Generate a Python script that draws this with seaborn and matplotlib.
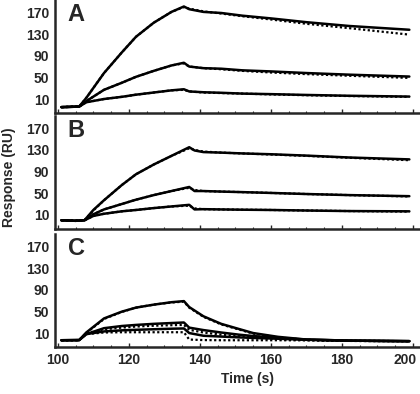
import numpy as np
import pandas as pd
import seaborn as sns
import matplotlib.pyplot as plt
import matplotlib.transforms as mtransforms
from matplotlib.ticker import MultipleLocator

sns.set_style("ticks")
plt.rcParams['font.family'] = ['Liberation Sans', 'DejaVu Sans']
plt.rcParams['font.weight'] = 'bold'

# time points (s)
time_a = [101, 106, 108, 113, 118, 122, 127, 132, 135.5, 137, 141, 146, 152, 160, 170, 182, 199]
time_b = [101, 105, 107.5, 110, 113, 118, 122, 127, 132, 137, 138.5, 141, 146, 152, 160, 170, 182, 199]
time_c = [101, 106, 108, 113, 118, 122, 127, 132, 135.5, 137, 141, 146, 151, 155, 162, 170, 182, 199]

# panel A: measured (solid) and fit (dotted)
a_high = [-5, -4, 12, 58, 96, 125, 151, 171, 181, 176, 171, 169, 164, 159, 152, 145, 138]
a_mid = [-5, -4, 6, 27, 40, 51, 62, 72, 77, 70, 67, 66, 63, 61, 58, 55, 51.5]
a_low = [-5, -4, 4, 10, 14, 18, 22, 26, 28, 24, 22.5, 21.5, 20, 19, 17.5, 16, 14.5]
a_high_fit = [-5, -4, 12, 58, 96, 125, 151, 171, 180, 177, 172, 168, 163, 157, 149, 141, 129]
a_mid_fit = [-5, -4, 6, 27, 40, 51, 62, 72, 76, 70, 67, 65, 62, 59, 56, 53, 49]
a_low_fit = [-5, -4, 4, 10, 14, 18, 22, 26, 27, 24, 22, 21, 20, 18.5, 17, 15.5, 14]

# panel B
b_high = [0, -1, 0, 19, 37, 65, 85, 103, 119, 135, 129, 126, 125, 123.5, 122, 119.5, 116, 112.5]
b_mid = [0, -1, 0, 11, 20, 30, 38, 46.5, 54, 61.5, 54, 54, 53, 52, 50.5, 48.5, 46.5, 44.5]
b_low = [0, -1, 0, 8, 12, 16.5, 19, 22.5, 25.5, 28.5, 20, 20.5, 20, 19.5, 19, 18, 17, 16.5]
b_high_fit = [0, -1, 0, 18, 37, 65, 85, 103, 119, 133, 130, 127, 125, 123.5, 121.5, 119, 115.5, 111]
b_mid_fit = [0, -1, 0, 11, 20, 30, 38, 46.5, 54, 60, 56, 54, 53, 52, 50.5, 48.5, 46.5, 44]
b_low_fit = [0, -1, 0, 8, 12, 16.5, 19, 22.5, 25.5, 27, 22, 20.5, 20, 19.5, 19, 18, 17, 16]

# panel C
c_high = [-3.3, -3, 11, 37, 49.5, 57, 62.5, 67, 69, 58, 41, 27, 17.5, 10, 3, -2, -4, -5]
c_mid = [-3.3, -3, 8, 19, 23, 25, 27, 28.5, 29.5, 20, 15.5, 11, 7, 4.5, 1, -2, -4, -5]
c_low = [-3.3, -3, 8, 13, 15, 16, 17, 18, 18.5, 10, 5, 3.5, 2, 1, -0.5, -2.5, -4, -5]
c_high_fit = [-3.3, -3, 10, 36, 49, 57, 62.5, 66.5, 68, 57, 40, 26, 16.5, 9, 2, -2.5, -4.5, -5]
c_mid_fit = [-3.3, -3, 9, 17, 20, 22, 23.5, 24.5, 25, 16, 11, 7, 4, 2, -1, -3, -4.5, -5]
c_low_fit = [-3.3, -3, 8, 11, 11.5, 11.5, 11.5, 11.5, 11.5, -2, -3, -3.3, -3.3, -3.3, -3.3, -3.5, -4.5, -5]

panels = [
    ('A', time_a, [a_high, a_mid, a_low], [a_high_fit, a_mid_fit, a_low_fit]),
    ('B', time_b, [b_high, b_mid, b_low], [b_high_fit, b_mid_fit, b_low_fit]),
    ('C', time_c, [c_high, c_mid, c_low], [c_high_fit, c_mid_fit, c_low_fit]),
]

fig = plt.figure(figsize=(4.2, 3.94), dpi=100)
# axes boxes in figure fraction: left, bottom, width, height
boxes = [(0.131, 0.713, 0.869, 0.287),
         (0.131, 0.419, 0.869, 0.287),
         (0.131, 0.119, 0.869, 0.287)]

for i, (letter, t, measured, fits) in enumerate(panels):
    ax = fig.add_axes(boxes[i])
    for fit in fits:
        sns.lineplot(x=t, y=fit, ax=ax, color='black', lw=1.6, linestyle=(0, (1, 1.1)))
    for vals in measured:
        sns.lineplot(x=t, y=vals, ax=ax, color='black', lw=1.8)
    ax.set_xlim(99.2, 202)
    ax.set_ylim(-16, 193)
    ax.set_yticks([10, 50, 90, 130, 170])
    ax.xaxis.set_major_locator(MultipleLocator(20))
    ax.xaxis.set_minor_locator(MultipleLocator(5))
    ax.tick_params(axis='y', length=0, pad=4, labelsize=10)
    ax.tick_params(axis='x', which='major', direction='in', length=3, width=1, labelsize=10, pad=4)
    ax.tick_params(axis='x', which='minor', direction='in', length=1.5, width=0.8)
    for lab in ax.get_yticklabels() + ax.get_xticklabels():
        lab.set_fontweight('bold')
    sns.despine(ax=ax)
    ax.spines['left'].set_linewidth(1.8)
    ax.spines['bottom'].set_linewidth(1.8)
    ax.set_xlabel('')
    ax.set_ylabel('')
    if i < 2:
        ax.tick_params(axis='x', labelbottom=False)
    else:
        fig.canvas.draw()
        last = [lab for lab in ax.get_xticklabels() if lab.get_text() == '200']
        for lab in last:
            lab.set_transform(lab.get_transform() +
                              mtransforms.ScaledTranslation(-8 / 100, 0, fig.dpi_scale_trans))
    ax.text(0.035, 0.975, letter, transform=ax.transAxes, fontsize=17,
            fontweight='bold', va='top', ha='left')

fig.text(0.022, 0.55, 'Response (RU)', rotation=90, fontsize=10,
         fontweight='bold', ha='center', va='center')
fig.text(0.59, 0.02, 'Time (s)', fontsize=10, fontweight='bold',
         ha='center', va='bottom')

fig.savefig('out.png', dpi=100)
